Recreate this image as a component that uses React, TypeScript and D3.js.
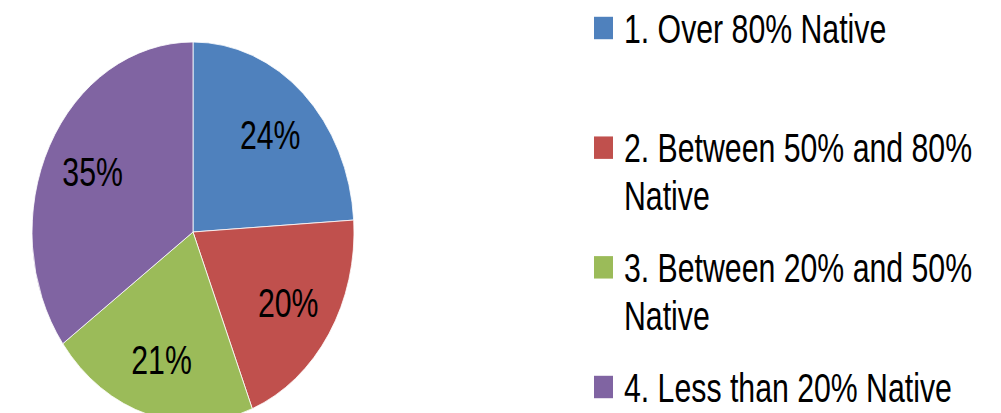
import React, { useEffect, useRef } from 'react';
import * as d3 from 'd3';

const categories = [
    '1. Over 80% Native',
    '2. Between 50% and 80% Native',
    '3. Between 20% and 50% Native',
    '4. Less than 20% Native',
];
const shares = [24, 20, 21, 35];
const colors = ['#4F81BD', '#C0504D', '#9BBB59', '#8064A2'];

const FONT = '"Liberation Sans", Arial, sans-serif';
const SX = 0.89; // narrow face in the original, squeeze horizontally

const App: React.FC = () => {
    const chartRef = useRef<SVGSVGElement | null>(null);

    useEffect(() => {
        if (!chartRef.current) return;
        const svg = d3.select(chartRef.current);
        svg.selectAll('*').remove();

        const width = 1001;
        const ky = 190 / 161; // picture is stretched vertically
        const radius = 161;
        const cx = 193;
        const cy = 232 / ky;

        const root = svg.append('g').attr('transform', `scale(1, ${ky})`);

        const data = categories.map((c, i) => ({ name: c, value: shares[i], color: colors[i] }));

        const pie = d3.pie<any>().value((d) => d.value).sort(null);
        const arc = d3.arc<any>().innerRadius(0).outerRadius(radius);
        const labelArc = d3.arc<any>().innerRadius(radius * 0.7).outerRadius(radius * 0.7);
        const arcs = pie(data);

        const g = root.append('g').attr('transform', `translate(${cx}, ${cy})`);

        g.selectAll('path')
            .data(arcs)
            .enter()
            .append('path')
            .attr('d', arc)
            .attr('fill', (d) => d.data.color)
            .attr('stroke', '#ffffff')
            .attr('stroke-width', 0.8)
            .attr('vector-effect', 'non-scaling-stroke');

        g.selectAll('g.pct')
            .data(arcs)
            .enter()
            .append('g')
            .attr('class', 'pct')
            .attr('transform', (d) => {
                const [x, y] = labelArc.centroid(d);
                return `translate(${x}, ${y}) scale(${SX}, 1)`;
            })
            .append('text')
            .attr('dy', '0.35em')
            .attr('text-anchor', 'middle')
            .style('font-family', FONT)
            .style('font-size', '34px')
            .style('fill', '#000')
            .text((d) => `${d.data.value}%`);

        // legend
        const ly = d3.scalePoint<string>().domain(categories).range([28 / ky, 387 / ky]);
        const legendX = 594;
        const box = 19;
        const maxWidth = (width - 624 - 6) / SX;

        const items = root.selectAll('g.legend')
            .data(data)
            .enter()
            .append('g')
            .attr('class', 'legend')
            .attr('transform', (d) => `translate(${legendX}, ${ly(d.name)})`);

        items.append('rect')
            .attr('x', 0)
            .attr('y', -box / 2)
            .attr('width', box)
            .attr('height', box)
            .attr('fill', (d) => d.color);

        items.each(function (d) {
            const text = d3.select(this)
                .append('g')
                .attr('transform', `translate(30, 12.3) scale(${SX}, 1)`)
                .append('text')
                .style('font-family', FONT)
                .style('font-size', '34px')
                .style('fill', '#000');
            const words = d.name.split(' ');
            let line: string[] = [];
            let tspan = text.append('tspan').attr('x', 0).attr('dy', 0);
            words.forEach((w) => {
                line.push(w);
                tspan.text(line.join(' '));
                const node = tspan.node() as SVGTSpanElement;
                if (node.getComputedTextLength() > maxWidth && line.length > 1) {
                    line.pop();
                    tspan.text(line.join(' '));
                    line = [w];
                    tspan = text.append('tspan').attr('x', 0).attr('dy', 40.7).text(w);
                }
            });
        });
    }, []);

    return (
        <svg
            ref={chartRef}
            width={1001}
            height={413}
            style={{ position: 'absolute', left: 0, top: 0, background: '#fff' }}
        />
    );
};

export default App;
